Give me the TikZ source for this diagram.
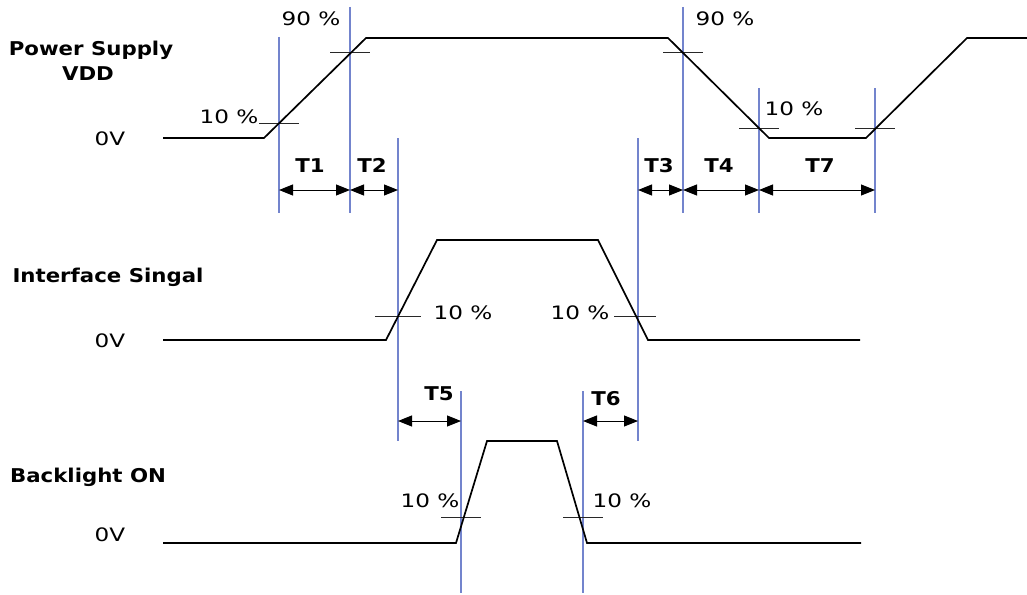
\documentclass[tikz,border=0pt]{standalone}
\usepackage{fontspec}
\setmainfont{DejaVu Sans}
\newfontfamily\lblfont[FakeStretch=1.25]{DejaVu Sans}
\newfontfamily\sigfont[FakeStretch=1.12, BoldFeatures={FakeStretch=1.12}]{DejaVu Sans}
\usetikzlibrary{arrows.meta}
\definecolor{guideblue}{RGB}{115,132,205}
\definecolor{tickgray}{RGB}{40,40,40}
\tikzset{
  wave/.style={line width=1.7pt, line join=miter},
  guide/.style={draw=guideblue, line width=1.1pt},
  lvl/.style={draw=tickgray, line width=1pt},
  span/.style={line width=1pt, {Triangle[length=14pt,width=11pt]}-{Triangle[length=14pt,width=11pt]}},
  lbl/.style={anchor=base, inner sep=0pt, font=\lblfont\fontsize{18.5}{21}\selectfont},
  sig/.style={anchor=base, inner sep=0pt, font=\sigfont\bfseries\fontsize{19}{22}\selectfont}
}
\begin{document}
\begin{tikzpicture}[x=1pt,y=-1pt]
  \useasboundingbox (0,0) rectangle (1027,594);
  % guide lines through the 10 % / 90 % points
  \foreach \n/\x/\a/\b in {a/279/37/213, b/350/7/213, c/398/138/441, d/638/138/441,
      e/683/7/213, f/759/88/213, g/875/88/213, h/461/391/593, i/583/391/593}
    \draw[guide] (\x,\a) coordinate (\n top) -- (\x,\b) coordinate (\n bot);
  % level marks
  \foreach \x/\y/\w in {279/123/20, 350/53/20, 683/53/20, 759/128/20, 875/128/20,
      398/316/23, 635/316/21, 461/517/20, 583/517/20}
    \draw[lvl] (\x-\w,\y) -- (\x+\w,\y);
  % waveforms
  \draw[wave] (163,138) -- (264,138) -- (366,38) -- (668,38) -- (769,138)
    -- (866,138) -- (967,38) -- (1027,38);
  \draw[wave] (163,340) -- (386,340) -- (437,240) -- (598,240) -- (648,340) -- (860,340);
  \draw[wave] (163,543) -- (456,543) -- (487,441) -- (557,441) -- (587,543) -- (861,543);
  % timing spans
  \foreach \p/\q/\y/\t/\tx/\ty in {a/b/190/T1/310/172, b/c/190/T2/372/172,
      d/e/190/T3/659/172, e/f/190/T4/719/172, f/g/190/T7/820/172,
      c/h/421/T5/439/400, i/d/421/T6/606/405} {
    \coordinate (\t l) at (\p top |- 0,\y);
    \coordinate (\t r) at (\q top |- 0,\y);
    \draw[span] (\t l) -- (\t r);
    \node[sig] (\t) at (\tx,\ty) {\t};
  }
  % percent marks
  \node[lbl] (p90a) at (311,26) {90 \%};
  \node[lbl] (p10a) at (229,123) {10 \%};
  \node[lbl] (p90b) at (725,26) {90 \%};
  \node[lbl] (p10b) at (794,115) {10 \%};
  \node[lbl] (p10c) at (463,319) {10 \%};
  \node[lbl] (p10d) at (580,319) {10 \%};
  \node[lbl] (p10e) at (430,507) {10 \%};
  \node[lbl] (p10f) at (622,507) {10 \%};
  % signal names
  \node[sig] (vdd) at (91,56) {Power Supply};
  \node[sig] (vdd2) at (88,80) {VDD};
  \node[sig] (ifs) at (108,282) {Interface Singal};
  \node[sig] (bl) at (88,482) {Backlight ON};
  \node[lbl] (z1) at (110,145) {0V};
  \node[lbl] (z2) at (110,347) {0V};
  \node[lbl] (z3) at (110,541) {0V};
\end{tikzpicture}
\end{document}
